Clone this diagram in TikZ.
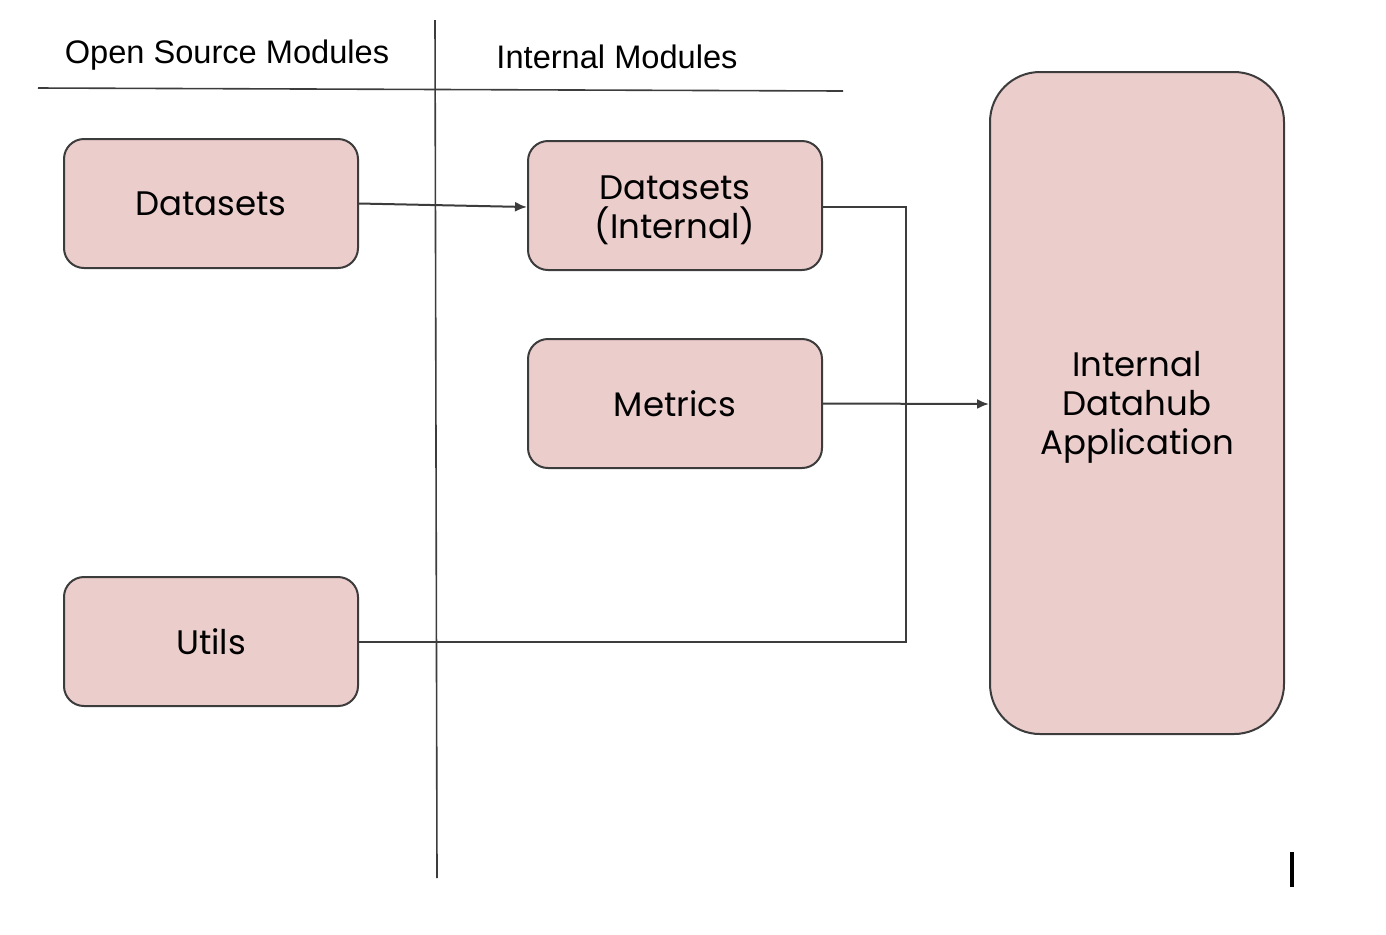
\documentclass[tikz,border=0pt]{standalone}
\usepackage{fontspec}
\setmainfont{Poppins}
\newfontfamily\headfont{Liberation Sans}
\usetikzlibrary{positioning, arrows.meta, calc}
\definecolor{boxpink}{RGB}{235,205,204}
\definecolor{boxline}{RGB}{60,60,60}
\tikzset{%
  module/.style={% the pink rounded boxes
    draw=boxline, fill=boxpink, line width=1pt, rounded corners=10pt,
    minimum width=147pt, minimum height=64.5pt, align=center,
    font=\fontsize{17}{19.5}\selectfont, inner sep=0pt
  },
  header/.style={font=\headfont\fontsize{16.3}{19}\selectfont, inner sep=0pt},
  wire/.style={draw=boxline, line width=1pt},
  link/.style={% arrows between modules
    draw=boxline, line width=1pt, -{Latex[length=6pt,width=5pt]}
  }
}

\begin{document}
\begin{tikzpicture}[x=0.5pt, y=-0.5pt]
    \useasboundingbox (0,0) rectangle (1386,934);

    % headers and separators
    \node[header] (oshead) at (227,55) {Open Source Modules};
    \node[header] (inhead) at (617,57) {Internal Modules};
    \coordinate (hl) at (38,88);
    \coordinate (hr) at (843,91);
    \coordinate (vt) at (435,20);
    \coordinate (vb) at (437,878);
    \draw[wire, line width=0.8pt] (hl) -- (hr);
    \draw[wire, line width=0.8pt] (vt) -- (vb);

    % modules
    \node[module] (ds) at (211,203.5) {Datasets};
    \node[module] (dsint) at (675,205.5) {\rule{0pt}{17pt}Datasets\\(Internal)};
    \node[module] (met) at (675,403.5) {Metrics};
    \node[module] (utl) at (211,641.5) {Utils};
    \node[module, rounded corners=25pt, minimum height=331pt] (app) at (1137,403)
      {\rule{0pt}{17pt}Internal\\Datahub\\Application};

    % connectors
    \coordinate (jt) at (906,207);
    \coordinate (jb) at (906,641.5);
    \draw[link] (ds.east) -- ($(dsint.west)+(0,1.5)$);
    \draw[wire] ($(dsint.east)+(0,1.5)$) -- (jt) -- (jb) -- (utl.east);
    \draw[link] (met.east) -- ($(app.west)+(0,1)$);

    % text cursor
    \coordinate (ct) at (1292,852);
    \coordinate (cb) at (1292,887);
    \draw[line width=2pt] (ct) -- (cb);
\end{tikzpicture}
\end{document}
